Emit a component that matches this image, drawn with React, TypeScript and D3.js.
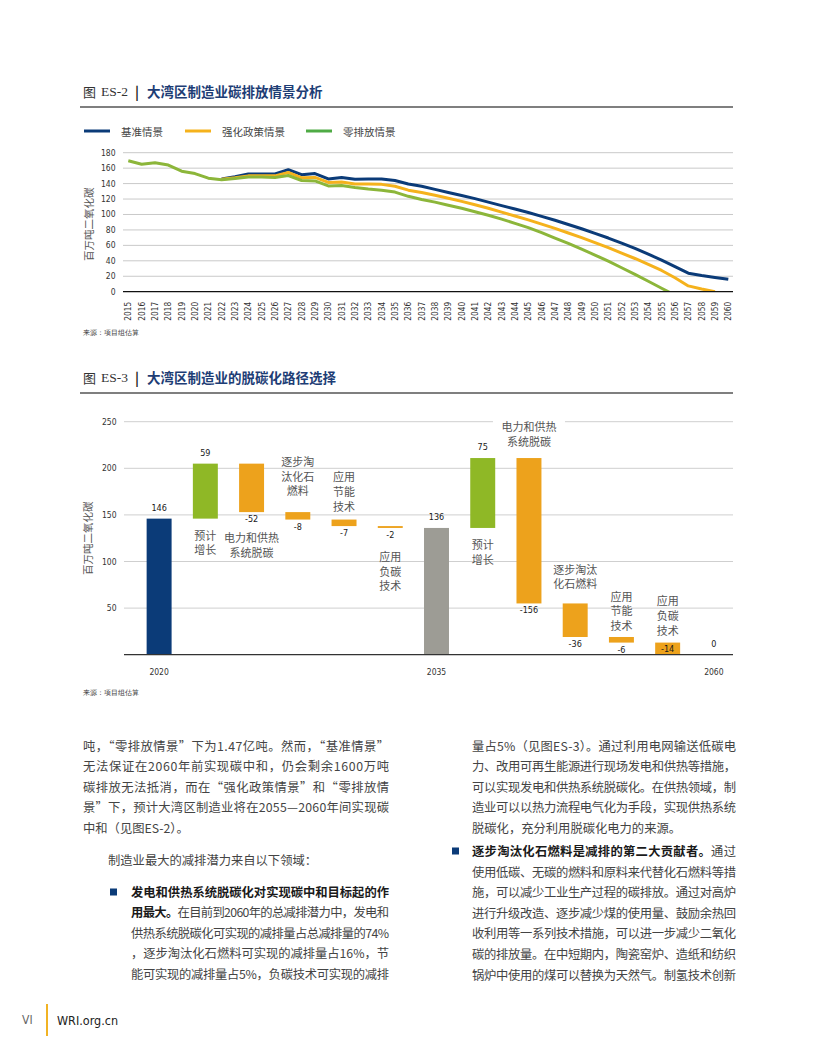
import React from 'react';
import * as d3 from 'd3';

// ---------------- Data: Figure ES-2 ----------------
const years: number[] = [
  2015, 2016, 2017, 2018, 2019, 2020, 2021, 2022, 2023, 2024, 2025, 2026, 2027, 2028, 2029, 2030,
  2031, 2032, 2033, 2034, 2035, 2036, 2037, 2038, 2039, 2040, 2041, 2042, 2043, 2044, 2045,
  2046, 2047, 2048, 2049, 2050, 2051, 2052, 2053, 2054, 2055, 2056, 2057, 2058, 2059, 2060,
];
const yTicksTop = [0, 20, 40, 60, 80, 100, 120, 140, 160, 180];

const baselineStart = 2022;
const baselineValues = [
  146, 149, 152.5, 152.5, 152.5, 158, 151.5, 153, 146, 148, 145.5, 146, 146, 144,
  139.5, 136.5, 132.5, 128.5, 124.5, 120.5, 116, 111.5, 107, 102.5,
  97.5, 92.5, 87, 81.5, 75.5, 69.5, 63, 56, 48.5, 41, 32.5, 24, 21, 18.5, 16,
];
const policyStart = 2022;
const policyValues = [
  145.5, 147.5, 150, 150, 150, 154.5, 147.5, 148, 141.5, 142, 139.5, 139.5, 139, 136.5,
  131.5, 128.5, 125, 121, 117, 112.5, 108, 103, 98, 93,
  87.5, 82, 76, 70, 63.5, 57, 50, 43, 35.5, 27.5, 18, 7.5, 3.5, 0,
];
const zeroStart = 2015;
const zeroValues = [
  169.5, 165, 167, 164, 156, 153, 147, 145, 146.5, 148.5, 148.5, 148, 150.5, 144, 143.5, 137,
  137.5, 135, 133, 131.5, 129, 123.5, 119.5, 116, 112, 108, 103.5, 99, 94, 88.5, 83,
  76.5, 69.5, 62.5, 55, 47.5, 39.5, 31, 22.5, 13.5, 4.5, -4.5,
];
const seriesNames = ['基准情景', '强化政策情景', '零排放情景'];

// ---------------- Data: Figure ES-3 ----------------
const wfCategories = [
  '2020', '预计增长', '电力和供热系统脱碳', '逐步淘汰化石燃料', '应用节能技术', '应用负碳技术',
  '2035', '预计增长', '电力和供热系统脱碳', '逐步淘汰化石燃料', '应用节能技术', '应用负碳技术', '2060',
];
const wfValues = [146, 59, -52, -8, -7, -2, 136, 75, -156, -36, -6, -14, 0];
const wfKinds = ['total', 'inc', 'dec', 'dec', 'dec', 'dec', 'total', 'inc', 'dec', 'dec', 'dec', 'dec', 'total'];
const wfLabelLines: string[][] = [
  [], ['预计', '增长'], ['电力和供热', '系统脱碳'], ['逐步淘', '汰化石', '燃料'], ['应用', '节能', '技术'], ['应用', '负碳', '技术'],
  [], ['预计', '增长'], ['电力和供热', '系统脱碳'], ['逐步淘汰', '化石燃料'], ['应用', '节能', '技术'], ['应用', '负碳', '技术'], [],
];
const wfYTicks = [50, 100, 150, 200, 250];

// ---------------- Layout / style ----------------
const labelLayout: ({ side: 'above' | 'below'; gap: number; box?: boolean } | null)[] = [
  null, { side: 'below', gap: 16 }, { side: 'below', gap: 25 }, { side: 'above', gap: 22 },
  { side: 'above', gap: 14 }, { side: 'below', gap: 28 }, null, { side: 'below', gap: 16 },
  { side: 'above', gap: 17, box: true }, { side: 'above', gap: 20 }, { side: 'above', gap: 12 },
  { side: 'above', gap: 13 }, null,
];

const NAVY = '#0b3b78';
const YELLOW = '#f5b21c';
const GREEN = '#8cb63a';
const LEGEND_GREEN = '#4fab45';
const ORANGE = '#eda21c';
const BAR_GREEN = '#8fb826';
const GRAY = '#9d9c95';
const TITLE_NAVY = '#1d3d75';
const CJK = "'Noto Sans CJK SC', 'Noto Sans', sans-serif";
const NARROW = "'Liberation Sans Narrow', 'DejaVu Sans Condensed', 'Roboto Condensed', 'Liberation Sans', sans-serif";
const SERIF = "'Liberation Serif', 'DejaVu Serif', serif";

const leftLines: { parts: { t: string; b?: boolean }[]; justify: boolean }[] = [
  { parts: [{ t: '吨，“零排放情景”下为1.47亿吨。然而，“基准情景”' }], justify: true },
  { parts: [{ t: '无法保证在2060年前实现碳中和，仍会剩余1600万吨' }], justify: true },
  { parts: [{ t: '碳排放无法抵消，而在“强化政策情景”和“零排放情' }], justify: true },
  { parts: [{ t: '景”下，预计大湾区制造业将在2055—2060年间实现碳' }], justify: true },
  { parts: [{ t: '中和（见图ES-2）。' }], justify: false },
];
const leftBullet: { parts: { t: string; b?: boolean }[]; justify: boolean }[] = [
  { parts: [{ t: '发电和供热系统脱碳化对实现碳中和目标起的作', b: true }], justify: true },
  { parts: [{ t: '用最大。', b: true }, { t: '在目前到2060年的总减排潜力中，发电和' }], justify: true },
  { parts: [{ t: '供热系统脱碳化可实现的减排量占总减排量的74%' }], justify: true },
  { parts: [{ t: '，逐步淘汰化石燃料可实现的减排量占16%，节' }], justify: true },
  { parts: [{ t: '能可实现的减排量占5%，负碳技术可实现的减排' }], justify: true },
];
const rightLines: { parts: { t: string; b?: boolean }[]; justify: boolean }[] = [
  { parts: [{ t: '量占5%（见图ES-3）。通过利用电网输送低碳电' }], justify: true },
  { parts: [{ t: '力、改用可再生能源进行现场发电和供热等措施，' }], justify: true },
  { parts: [{ t: '可以实现发电和供热系统脱碳化。在供热领域，制' }], justify: true },
  { parts: [{ t: '造业可以以热力流程电气化为手段，实现供热系统' }], justify: true },
  { parts: [{ t: '脱碳化，充分利用脱碳化电力的来源。' }], justify: false },
];
const rightBullet: { parts: { t: string; b?: boolean }[]; justify: boolean }[] = [
  { parts: [{ t: '逐步淘汰化石燃料是减排的第二大贡献者。', b: true }, { t: '通过' }], justify: true },
  { parts: [{ t: '使用低碳、无碳的燃料和原料来代替化石燃料等措' }], justify: true },
  { parts: [{ t: '施，可以减少工业生产过程的碳排放。通过对高炉' }], justify: true },
  { parts: [{ t: '进行升级改造、逐步减少煤的使用量、鼓励余热回' }], justify: true },
  { parts: [{ t: '收利用等一系列技术措施，可以进一步减少二氧化' }], justify: true },
  { parts: [{ t: '碳的排放量。在中短期内，陶瓷窑炉、造纸和纺织' }], justify: true },
  { parts: [{ t: '锅炉中使用的煤可以替换为天然气。制氢技术创新' }], justify: true },
];

function Para({ lines, x, y0, width, step }: { lines: { parts: { t: string; b?: boolean }[]; justify: boolean }[]; x: number; y0: number; width: number; step: number }) {
  return (
    <g>
      {lines.map((ln, i) => (
        <text
          key={i}
          x={x}
          y={y0 + i * step}
          dominantBaseline="central"
          fontFamily={CJK}
          fontSize={12.3}
          fill="#444"
          {...(ln.justify ? { textLength: width, lengthAdjust: 'spacing' } : {})}
        >
          {ln.parts.map((p, j) => (
            <tspan key={j} fontWeight={p.b ? 700 : 400} fill={p.b ? '#1a1a1a' : '#444'}>{p.t}</tspan>
          ))}
        </text>
      ))}
    </g>
  );
}

export default function App() {
  // ----- ES-2 scales -----
  const xTop = d3.scaleLinear().domain([years[0], years[years.length - 1]]).range([128.3, 728.3]);
  const yTop = d3.scaleLinear().domain([0, 180]).range([291.7, 152.7]);
  const lineGen = d3.line<[number, number]>().x((d) => xTop(d[0])).y((d) => yTop(d[1]));
  const toPts = (start: number, vals: number[]) => vals.map((v, i) => [start + i, v] as [number, number]);
  const series = [
    { name: seriesNames[0], color: NAVY, legend: NAVY, pts: toPts(baselineStart, baselineValues) },
    { name: seriesNames[1], color: YELLOW, legend: YELLOW, pts: toPts(policyStart, policyValues) },
    { name: seriesNames[2], color: GREEN, legend: LEGEND_GREEN, pts: toPts(zeroStart, zeroValues) },
  ];
  const legendX = [84, 185, 306];

  // ----- ES-3 scales -----
  const xWf = d3.scaleBand<number>().domain(wfCategories.map((_, i) => i)).range([136, 737]).paddingInner(0.46).paddingOuter(0.23);
  const yWf = d3.scaleLinear().domain([0, 250]).range([654.7, 421.7]);
  let running = 0;
  let totalIdx = 0;
  const totalColors = [NAVY, GRAY, GRAY];
  const bars = wfValues.map((v, i) => {
    const kind = wfKinds[i];
    let start: number, end: number, color: string;
    if (kind === 'total') {
      start = 0; end = v; running = v; color = totalColors[totalIdx++];
    } else {
      start = running; end = running + v; running = end; color = kind === 'inc' ? BAR_GREEN : ORANGE;
    }
    const hi = Math.max(start, end);
    const lo = Math.max(0, Math.min(start, end));
    return { i, v, kind, hi, lo, color };
  });

  return (
    <svg width={816} height={1056} style={{ position: 'absolute', left: 0, top: 0, background: '#fff' }}>
      <rect x={0} y={0} width={816} height={1056} fill="#fff" />
      <defs>
        <clipPath id="plotClip">
          <rect x={100} y={100} width={680} height={yTop(0) - 100} />
        </clipPath>
      </defs>

      {/* ===== Figure ES-2 title ===== */}
      <text x={83} y={91} dominantBaseline="central" fontFamily={CJK} fontSize={13} fill="#333">图</text>
      <text x={101} y={91} dominantBaseline="central" fontFamily={SERIF} fontSize={13.5} fill="#333">ES-2</text>
      <text x={135} y={91} dominantBaseline="central" fontFamily={CJK} fontSize={13.5} fontWeight={700} fill="#222">|</text>
      <text x={147} y={91} dominantBaseline="central" fontFamily={CJK} fontSize={13.5} fontWeight={700} fill={TITLE_NAVY}>大湾区制造业碳排放情景分析</text>
      <line x1={80} x2={733} y1={107} y2={107} stroke="#555" strokeWidth={1.5} />

      {/* legend */}
      {series.map((s, i) => (
        <g key={s.name}>
          <line x1={legendX[i]} x2={legendX[i] + 26} y1={131} y2={131} stroke={s.legend} strokeWidth={3} />
          <text x={legendX[i] + 37} y={131} dominantBaseline="central" fontFamily={CJK} fontSize={10.5} fill="#444">{s.name}</text>
        </g>
      ))}

      {/* grid + y ticks */}
      {yTicksTop.map((t) => (
        <g key={t}>
          {t > 0 && <line x1={123} x2={733} y1={yTop(t)} y2={yTop(t)} stroke="#c9c9c9" strokeWidth={1} />}
          <text x={115.5} y={yTop(t)} textAnchor="end" dominantBaseline="central" fontFamily={NARROW} fontSize={8.5} fill="#333">{t}</text>
        </g>
      ))}
      <text transform={`translate(88,${(yTop(0) + yTop(180)) / 2 + 2}) rotate(-90)`} textAnchor="middle" dominantBaseline="central" fontFamily={CJK} fontSize={10.5} fill="#555">百万吨二氧化碳</text>

      {/* lines */}
      <g clipPath="url(#plotClip)">
        {series.map((s) => (
          <path key={s.name} d={lineGen(s.pts) || ''} fill="none" stroke={s.color} strokeWidth={3} strokeLinejoin="round" />
        ))}
      </g>
      <line x1={123} x2={733} y1={yTop(0)} y2={yTop(0)} stroke="#111" strokeWidth={1.3} />

      {/* x labels */}
      {years.map((yr) => (
        <text key={yr} transform={`translate(${xTop(yr)},${yTop(0) + 10}) rotate(-90)`} textAnchor="end" dominantBaseline="central" fontFamily={NARROW} fontSize={8.3} fill="#333">{yr}</text>
      ))}
      <text x={83} y={333} dominantBaseline="central" fontFamily={SERIF} fontSize={7} fill="#333">来源：项目组估算</text>

      {/* ===== Figure ES-3 ===== */}
      <text x={83} y={377} dominantBaseline="central" fontFamily={CJK} fontSize={13} fill="#333">图</text>
      <text x={101} y={377} dominantBaseline="central" fontFamily={SERIF} fontSize={13.5} fill="#333">ES-3</text>
      <text x={135} y={377} dominantBaseline="central" fontFamily={CJK} fontSize={13.5} fontWeight={700} fill="#222">|</text>
      <text x={147} y={377} dominantBaseline="central" fontFamily={CJK} fontSize={13.5} fontWeight={700} fill={TITLE_NAVY}>大湾区制造业的脱碳化路径选择</text>
      <line x1={80} x2={733} y1={393} y2={393} stroke="#555" strokeWidth={1.5} />

      {wfYTicks.map((t) => (
        <g key={t}>
          <line x1={124} x2={733} y1={yWf(t)} y2={yWf(t)} stroke="#cfcfcf" strokeWidth={1} />
          <text x={116.5} y={yWf(t)} textAnchor="end" dominantBaseline="central" fontFamily={NARROW} fontSize={8.5} fill="#333">{t}</text>
        </g>
      ))}
      <text transform={`translate(87,${(yWf(0) + yWf(250)) / 2}) rotate(-90)`} textAnchor="middle" dominantBaseline="central" fontFamily={CJK} fontSize={10.5} fill="#555">百万吨二氧化碳</text>

      {bars.map((b) => {
        const x = xWf(b.i)!;
        const w = xWf.bandwidth();
        const cx = x + w / 2;
        const yHi = yWf(b.hi);
        const yLo = yWf(b.lo);
        const lay = labelLayout[b.i];
        const lines = wfLabelLines[b.i];
        const lh = 14.6;
        let valueY: number;
        const inside = b.kind === 'dec' && b.lo <= 0;
        if (b.kind === 'total' || b.kind === 'inc') valueY = yHi - 11;
        else if (inside) valueY = (yHi + yLo) / 2;
        else valueY = yLo + 7;
        return (
          <g key={b.i}>
            {b.hi > b.lo && <rect x={x} y={yHi} width={w} height={yLo - yHi} fill={b.color} />}
            <text x={cx} y={valueY} textAnchor="middle" dominantBaseline="central" fontFamily={NARROW} fontSize={9} fill="#1a1a1a">{b.v}</text>
            {lay && lay.box && (
              <rect x={cx - 36} y={yHi - lay.gap - (lines.length - 1) * lh - 8} width={72} height={(lines.length - 1) * lh + 16} fill="#fff" />
            )}
            {lay && lines.map((ln, k) => {
              const ly = lay.side === 'above'
                ? yHi - lay.gap - (lines.length - 1 - k) * lh
                : yLo + lay.gap + k * lh;
              return (
                <text key={k} x={cx} y={ly} textAnchor="middle" dominantBaseline="central" fontFamily={CJK} fontSize={11} fill="#555">{ln}</text>
              );
            })}
          </g>
        );
      })}
      <line x1={124} x2={733} y1={yWf(0)} y2={yWf(0)} stroke="#333" strokeWidth={1.3} />
      {bars.filter((b) => b.kind === 'total').map((b) => (
        <text key={b.i} x={xWf(b.i)! + xWf.bandwidth() / 2} y={672} textAnchor="middle" dominantBaseline="central" fontFamily={NARROW} fontSize={8.5} fill="#333">{wfCategories[b.i]}</text>
      ))}
      <text x={83} y={693} dominantBaseline="central" fontFamily={SERIF} fontSize={7} fill="#333">来源：项目组估算</text>

      {/* ===== Body text ===== */}
      <Para lines={leftLines} x={83} y0={746} width={306} step={20.4} />
      <text x={108} y={860} dominantBaseline="central" fontFamily={CJK} fontSize={12.3} fill="#444">制造业最大的减排潜力来自以下领域：</text>
      <rect x={110} y={888.5} width={7} height={7} fill={NAVY} />
      <Para lines={leftBullet} x={131} y0={892} width={258} step={20.4} />
      <Para lines={rightLines} x={472} y0={746} width={264} step={20.4} />
      <rect x={452} y={847.5} width={7} height={7} fill={NAVY} />
      <Para lines={rightBullet} x={472} y0={851} width={264} step={20.6} />

      {/* footer */}
      <text x={22} y={1020} dominantBaseline="central" fontFamily={NARROW} fontSize={12} fill="#666">VI</text>
      <line x1={47} x2={47} y1={1004} y2={1036} stroke="#f1b324" strokeWidth={2} />
      <text x={57} y={1020} dominantBaseline="central" fontFamily={NARROW} fontSize={12.5} fill="#222">WRI.org.cn</text>
    </svg>
  );
}
